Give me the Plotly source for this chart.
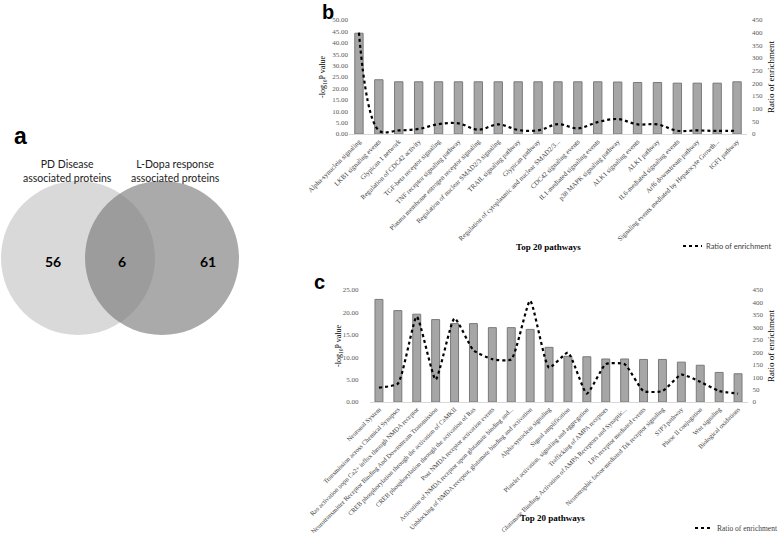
import plotly.graph_objects as go

# ---------------- data ----------------
venn_labels = ["PD Disease<br>associated proteins", "L-Dopa response<br>associated proteins"]
venn_counts = [56, 6, 61]

b_pathways = [
    "Alpha-synuclein signaling", "LKB1 signaling events", "Glypican 1 network",
    "Regulation of CDC42 activity", "TGF-beta receptor signaling",
    "TNF receptor signaling pathway", "Plasma membrane estrogen receptor signaling",
    "Regulation of nuclear SMAD2/3 signaling", "TRAIL signaling pathway",
    "Glypican pathway", "Regulation of cytoplasmic and nuclear SMAD2/3...",
    "CDC42 signaling events", "IL1-mediated signaling events",
    "p38 MAPK signaling pathway", "ALK1 signaling events", "ALK1 pathway",
    "IL6-mediated signaling events", "Arf6 downstream pathway",
    "Signaling events mediated by Hepatocyte Growth...", "IGF1 pathway",
]
b_logp = [44.2, 23.8, 22.9, 22.9, 22.9, 22.9, 22.9, 22.9, 22.9, 22.9,
          22.9, 22.9, 22.9, 22.8, 22.6, 22.6, 22.3, 22.3, 22.3, 22.9]
b_ratio = [400, 14, 14, 20, 39, 42, 17, 38, 16, 14,
           39, 22, 47, 59, 38, 38, 13, 14, 12, 13]

c_pathways = [
    "Neuronal System", "Transmission across Chemical Synapses",
    "Ras activation uopn Ca2+ influx through NMDA receptor",
    "Neurotransmitter Receptor Binding And Downstream Transmission",
    "CREB phosphorylation through the activation of CaMKII",
    "CREB phosphorylation through the activation of Ras",
    "Post NMDA receptor activation events",
    "Activation of NMDA receptor upon glutamate binding and...",
    "Unblocking of NMDA receptor, glutamate binding and activation",
    "Alpha-synuclein signaling", "Signal amplification",
    "Platelet activation, signaling and aggregation",
    "Trafficking of AMPA receptors",
    "Glutamate Binding, Activation of AMPA Receptors and Synaptic...",
    "LPA receptor mediated events",
    "Neurotrophic factor-mediated Trk receptor signaling",
    "S1P3 pathway", "Phase II conjugation", "Wnt signaling", "Biological oxidations",
]
c_logp = [22.9, 20.4, 19.6, 18.4, 17.5, 17.5, 16.6, 16.6, 16.2, 12.2,
          10.2, 10.1, 9.6, 9.6, 9.5, 9.5, 8.9, 8.2, 6.6, 6.3]
c_ratio = [58, 74, 343, 90, 336, 208, 172, 171, 407, 138,
           198, 34, 152, 152, 44, 44, 110, 81, 44, 34]

W, H = 778, 533
SERIF = "Liberation Serif, Times New Roman, serif"
SANS = "Lato, Calibri, Liberation Sans, sans-serif"

def px_x(p):
    return p / W

def px_y(p):
    return 1 - p / H

fig = go.Figure()

# ---------- panel b ----------
fig.add_trace(go.Bar(x=b_pathways, y=b_logp, xaxis="x", yaxis="y", width=0.42,
                     marker=dict(color="#a6a6a6", line=dict(color="#7a7a7a", width=1)),
                     showlegend=False, name="-log10 P value"))
fig.add_trace(go.Scatter(x=b_pathways, y=b_ratio, xaxis="x", yaxis="y2", mode="lines",
                         line=dict(color="black", width=2.2, dash="dot", shape="spline", smoothing=1),
                         showlegend=False, name="Ratio of enrichment"))
# ---------- panel c ----------
fig.add_trace(go.Bar(x=c_pathways, y=c_logp, xaxis="x3", yaxis="y3", width=0.42,
                     marker=dict(color="#a6a6a6", line=dict(color="#7a7a7a", width=1)),
                     showlegend=False, name="-log10 P value"))
fig.add_trace(go.Scatter(x=c_pathways, y=c_ratio, xaxis="x3", yaxis="y4", mode="lines",
                         line=dict(color="black", width=2.2, dash="dot", shape="spline", smoothing=0.5),
                         showlegend=False, name="Ratio of enrichment"))

tickfont_y = dict(family=SERIF, size=7, color="#595959")

def xaxis_cfg(domain, anchor, size):
    return dict(domain=domain, anchor=anchor, tickangle=-45, showgrid=False, automargin=False,
                showline=True, linecolor="#d9d9d9", linewidth=1, ticks="",
                tickfont=dict(family=SERIF, size=size, color="#404040"), zeroline=False)

def yaxis_cfg(**kw):
    d = dict(showgrid=False, zeroline=False, showline=False, tickfont=tickfont_y, automargin=False)
    d.update(kw)
    return d

fig.update_layout(
    width=W, height=H, margin=dict(l=0, r=0, t=0, b=0, autoexpand=False),
    paper_bgcolor="white", plot_bgcolor="rgba(0,0,0,0)",
    xaxis=xaxis_cfg([px_x(349), px_x(747)], "y", 6.8),
    yaxis=yaxis_cfg(domain=[px_y(134), px_y(20)], range=[0, 50], dtick=5, tickformat=".2f", anchor="x"),
    yaxis2=yaxis_cfg(overlaying="y", side="right", anchor="x", range=[0, 450], dtick=50,
                     ticklabelstandoff=4),
    xaxis3=xaxis_cfg([px_x(369.5), px_x(747.5)], "y3", 6.5),
    yaxis3=yaxis_cfg(domain=[px_y(402), px_y(290)], range=[0, 25], dtick=5, tickformat=".2f",
                     anchor="x3", ticklabelstandoff=10),
    yaxis4=yaxis_cfg(overlaying="y3", side="right", anchor="x3", range=[0, 450], dtick=50,
                     ticklabelstandoff=4),
    # pixel-coordinate overlay axis for the Venn diagram and labels
    xaxis5=dict(domain=[0, 1], range=[0, W], visible=False, fixedrange=True, anchor="y5", automargin=False),
    yaxis5=dict(domain=[0, 1], range=[H, 0], visible=False, fixedrange=True, anchor="x5", automargin=False),
)

# Venn circles
fig.add_shape(type="circle", xref="x5", yref="y5", x0=78 - 77, x1=78 + 77, y0=258 - 77, y1=258 + 77,
              fillcolor="rgb(217,217,217)", line=dict(width=0), layer="below")
fig.add_shape(type="circle", xref="x5", yref="y5", x0=162 - 77, x1=162 + 77, y0=258 - 77, y1=258 + 77,
              fillcolor="rgba(120,120,120,0.63)", line=dict(width=0), layer="below")

ann = []
def add(text, x, y, size, family, bold=False, color="black", angle=0, xanchor="center"):
    ann.append(dict(text=("<b>%s</b>" % text) if bold else text, x=x, y=y, xref="x5", yref="y5",
                    showarrow=False, font=dict(size=size, family=family, color=color),
                    textangle=angle, xanchor=xanchor, yanchor="middle"))

add("a", 12, 136, 23, "Liberation Sans, Arial, sans-serif", bold=True, xanchor="left")
add("b", 320, 12, 20, "Liberation Sans, Arial, sans-serif", bold=True, xanchor="left")
add("c", 312, 282, 20, "Liberation Sans, Arial, sans-serif", bold=True, xanchor="left")

add(venn_labels[0], 67, 171, 10.5, SANS, color="#222222")
add(venn_labels[1], 175, 171, 10.5, SANS, color="#222222")
add(str(venn_counts[0]), 53, 261, 14, SANS, bold=True)
add(str(venn_counts[1]), 122, 261, 14, SANS, bold=True)
add(str(venn_counts[2]), 208, 261, 14, SANS, bold=True)

# axis titles
add("-log<sub>10</sub>P value", 323, 77, 8, SERIF, angle=-90)
add("Ratio of enrichment", 771, 77, 9, SERIF, angle=-90)
add("-log<sub>10</sub>P value", 339, 346, 8, SERIF, angle=-90)
add("Ratio of enrichment", 771, 346, 9, SERIF, angle=-90)
add("Top 20 pathways", 548, 247, 9, SERIF, bold=True)
add("Top 20 pathways", 552, 518, 9, SERIF, bold=True)

# manual legends
add("Ratio of enrichment", 704, 246, 7.5, SANS, color="#404040", xanchor="left")
add("Ratio of enrichment", 715, 528, 7.5, SERIF, color="#404040", xanchor="left")
fig.add_shape(type="line", xref="x5", yref="y5", x0=683, x1=702, y0=246, y1=246,
              line=dict(color="black", width=2, dash="dot"))
fig.add_shape(type="line", xref="x5", yref="y5", x0=695, x1=713, y0=528, y1=528,
              line=dict(color="black", width=2, dash="dot"))

fig.update_layout(annotations=ann)

fig.write_html("out.html", config={"displayModeBar": False},
               post_script="document.body.style.margin='0';")
